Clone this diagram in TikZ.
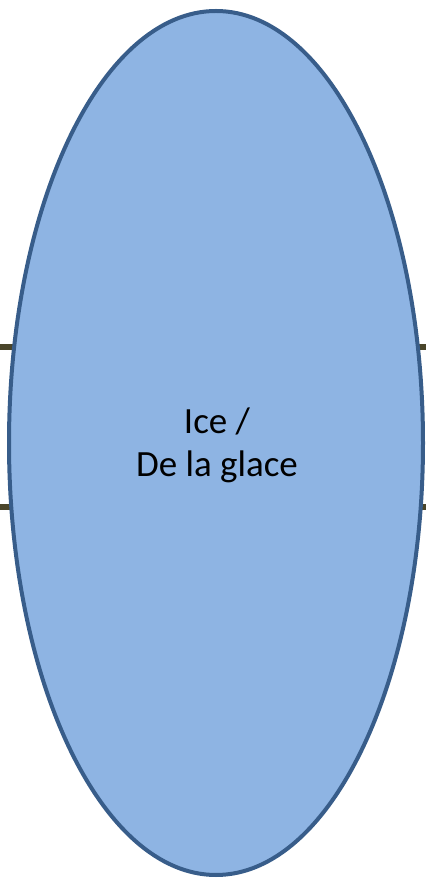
\documentclass[tikz,border=0pt]{standalone}
\usepackage{fontspec}
\setmainfont{Carlito}
\usetikzlibrary{shapes.geometric}
\definecolor{fillblue}{HTML}{8EB4E3}
\definecolor{edgeblue}{HTML}{385D8A}
\definecolor{stubcol}{HTML}{4A452A}
\tikzset{
  blob/.style={ellipse, draw=edgeblue, fill=fillblue, line width=4pt, inner sep=0pt,
    minimum width=414pt, minimum height=864pt},
  blobtext/.style={align=center, inner sep=0pt, font=\fontsize{37}{43}\selectfont},
  stub/.style={draw=stubcol, line width=6pt}
}
\begin{document}
\begin{tikzpicture}[x=1pt,y=1pt]
\useasboundingbox (0,0) rectangle (426,881);
\coordinate (l1a) at (0,534);
\coordinate (l1b) at (20,534);
\coordinate (l2a) at (0,374);
\coordinate (l2b) at (20,374);
\coordinate (r1a) at (406,534);
\coordinate (r1b) at (426,534);
\coordinate (r2a) at (406,374);
\coordinate (r2b) at (426,374);
\draw[stub] (l1a) -- (l1b);
\draw[stub] (l2a) -- (l2b);
\draw[stub] (r1a) -- (r1b);
\draw[stub] (r2a) -- (r2b);
\node[blob] (ice) at (216,438) {};
\node[blobtext] (icetext) at (217,436) {Ice /\\De la glace};
\end{tikzpicture}
\end{document}
